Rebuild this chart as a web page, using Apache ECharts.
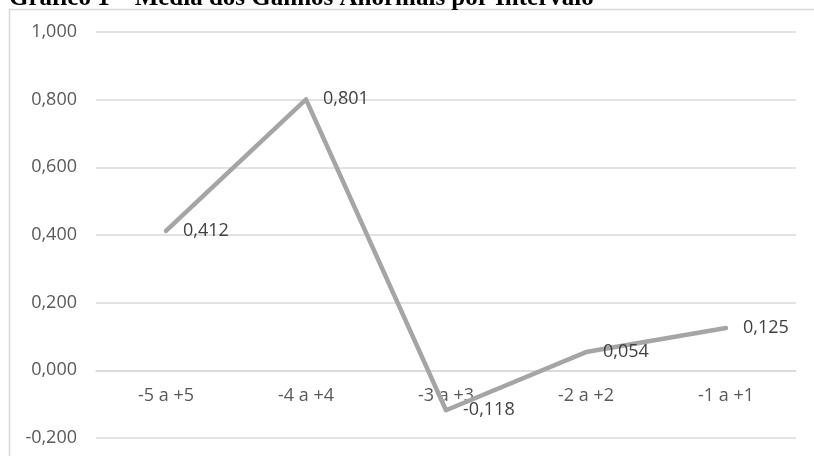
<!DOCTYPE html>
<html>
<head>
<meta charset="utf-8">
<script src="https://cdn.jsdelivr.net/npm/echarts@6/dist/echarts.min.js"></script>
<style>
  html, body { margin: 0; padding: 0; background: #fff; }
  #chart { width: 814px; height: 456px; }
</style>
</head>
<body>
<div id="chart"></div>
<script>
// Intervals around the event date and mean abnormal returns for each
const intervals = ['-5 a +5', '-4 a +4', '-3 a +3', '-2 a +2', '-1 a +1'];
const meanAbnormal = [0.412, 0.801, -0.118, 0.054, 0.125];
const yTicks = { min: -0.2, max: 1.0, step: 0.2 };
const chartTitle = 'Gráfico 1 – Média dos Ganhos Anormais por Intervalo';

// Brazilian decimal format: 0,412
const fmt = v => v.toFixed(3).replace('.', ',');

const chart = echarts.init(document.getElementById('chart'), null, { renderer: 'canvas' });
const sans = '"Open Sans", "Noto Sans", sans-serif';

chart.setOption({
  animation: false,
  backgroundColor: '#ffffff',
  graphic: [
    {
      type: 'rect',
      shape: { x: 9.5, y: 9.5, width: 900, height: 600 },
      style: { fill: 'none', stroke: '#D9D9D9', lineWidth: 1.5 },
      silent: true, z: -10
    },
    {
      type: 'text',
      left: 9, top: -14,
      style: {
        text: chartTitle,
        font: 'bold 25px "Liberation Serif", "Times New Roman", serif',
        fill: '#000000'
      },
      z: 10
    }
  ],
  grid: { left: 96, right: 18, top: 32, bottom: 18, containLabel: false, outerBoundsMode: 'none' },
  xAxis: {
    type: 'category',
    data: intervals,
    boundaryGap: true,
    axisLine: { show: true, onZero: false, lineStyle: { color: '#D9D9D9', width: 1.5 } },
    axisTick: { show: false },
    axisLabel: { color: '#595959', fontSize: 18, fontFamily: sans, margin: 17 },
    splitLine: { show: false }
  },
  yAxis: {
    type: 'value',
    min: yTicks.min, max: yTicks.max, interval: yTicks.step,
    axisLine: { show: false },
    axisTick: { show: false },
    axisLabel: { color: '#595959', fontSize: 18, fontFamily: sans, margin: 19, formatter: fmt },
    splitLine: { lineStyle: { color: '#D9D9D9', width: 1.5 } }
  },
  series: [{
    type: 'line',
    data: meanAbnormal,
    symbol: 'circle',
    symbolSize: 0.1,
    showSymbol: true,
    itemStyle: { color: '#A5A5A5' },
    lineStyle: { color: '#A5A5A5', width: 4.5, cap: 'round', join: 'round' },
    label: {
      show: true,
      position: 'right',
      distance: 17,
      color: '#404040',
      fontSize: 18,
      fontFamily: sans,
      formatter: p => fmt(p.value)
    }
  }]
});

// Category axis sits on the value-axis zero line: shift it up from the grid bottom
const yZero = chart.convertToPixel({ yAxisIndex: 0 }, 0);
const yBottom = chart.convertToPixel({ yAxisIndex: 0 }, yTicks.min);
chart.setOption({ xAxis: { offset: yZero - yBottom } });
</script>
</body>
</html>
